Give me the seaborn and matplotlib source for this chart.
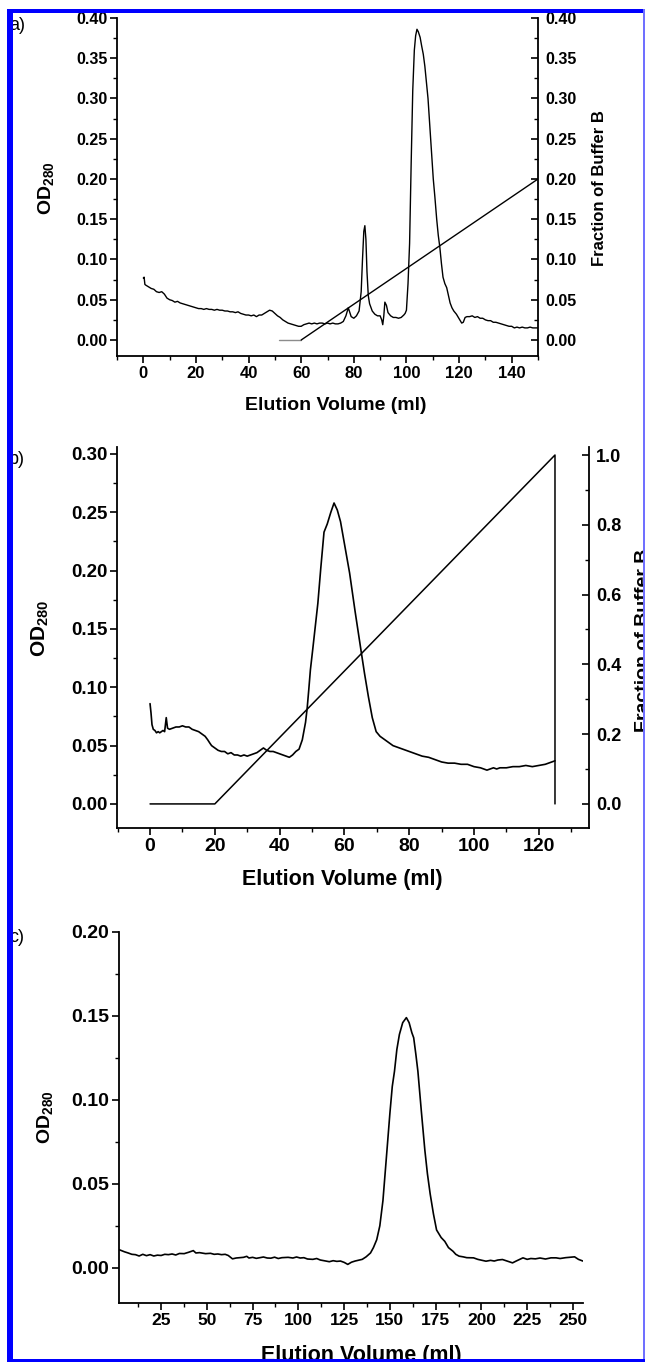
import matplotlib
matplotlib.use("Agg")
import matplotlib.pyplot as plt
from matplotlib.ticker import MultipleLocator, FormatStrFormatter
from matplotlib.patches import Rectangle
import seaborn as sns
import pandas as pd

# ---------------------------------------------------------------------------
# data: (elution volume ml, OD280)
# ---------------------------------------------------------------------------
trace_a = [
    (0, 0.077), (0.3, 0.078), (0.6, 0.069), (1, 0.068), (2, 0.066), (3, 0.064), (4, 0.063),
    (5, 0.060), (6, 0.059), (7, 0.060), (8, 0.057), (9, 0.052), (10, 0.050), (11, 0.049),
    (12, 0.047), (13, 0.048), (14, 0.046), (15, 0.045), (16, 0.044), (17, 0.043), (18, 0.042),
    (19, 0.041), (20, 0.040), (21, 0.039), (22, 0.039), (23, 0.038), (24, 0.039), (25, 0.038),
    (26, 0.038), (27, 0.037), (28, 0.038), (29, 0.037), (30, 0.037), (31, 0.036), (32, 0.036),
    (33, 0.035), (34, 0.035), (35, 0.034), (36, 0.035), (37, 0.033), (38, 0.032), (39, 0.031),
    (40, 0.031), (41, 0.030), (42, 0.031), (43, 0.029), (44, 0.031), (45, 0.031), (46, 0.033),
    (47, 0.035), (48, 0.037), (49, 0.036), (50, 0.033), (51, 0.030), (52, 0.028), (53, 0.025),
    (54, 0.023), (55, 0.021), (56, 0.020), (57, 0.019), (58, 0.018), (59, 0.017), (60, 0.017),
    (61, 0.019), (62, 0.020), (63, 0.021), (64, 0.020), (65, 0.021), (66, 0.020), (67, 0.021),
    (68, 0.021), (69, 0.020), (70, 0.021), (71, 0.020), (72, 0.021), (73, 0.020), (74, 0.020),
    (75, 0.021), (76, 0.023), (77, 0.030), (77.9, 0.040), (78.4, 0.035), (79, 0.029), (80, 0.027),
    (81, 0.030), (82, 0.036), (82.8, 0.060), (83.3, 0.100), (83.8, 0.135), (84.2, 0.142),
    (84.6, 0.125), (85, 0.085), (85.5, 0.055), (86, 0.045), (87, 0.036), (88, 0.032), (89, 0.030),
    (90, 0.030), (90.6, 0.025), (91, 0.019), (91.4, 0.030), (91.8, 0.047), (92.4, 0.043),
    (93, 0.034), (94, 0.030), (95, 0.028), (96, 0.028), (97, 0.027), (98, 0.028), (99, 0.031),
    (99.5, 0.033), (100, 0.037), (100.6, 0.070), (101.2, 0.120), (101.8, 0.220), (102.4, 0.310),
    (103, 0.360), (103.5, 0.378), (104, 0.386), (104.5, 0.383), (105.2, 0.376), (105.8, 0.365),
    (106.4, 0.355), (107, 0.340), (107.6, 0.320), (108.2, 0.300), (108.8, 0.270), (109.5, 0.235),
    (110.2, 0.200), (110.8, 0.178), (111.5, 0.150), (112.1, 0.130), (112.7, 0.115), (113.3, 0.095),
    (113.9, 0.078), (114.6, 0.070), (115.3, 0.065), (116, 0.055), (116.6, 0.046), (117.3, 0.040),
    (118, 0.036), (119, 0.032), (120.3, 0.025), (121, 0.021), (121.6, 0.022), (122.3, 0.028),
    (123, 0.029), (124, 0.029), (125, 0.030), (126, 0.028), (127, 0.029), (128, 0.027),
    (129, 0.027), (130, 0.025), (131, 0.024), (132, 0.024), (133, 0.022), (134, 0.022),
    (135, 0.021), (136, 0.020), (137, 0.019), (138, 0.018), (139, 0.017), (140, 0.017),
    (141, 0.015), (142, 0.016), (143, 0.015), (144, 0.016), (145, 0.015), (146, 0.015),
    (147, 0.016), (148, 0.015), (149, 0.015), (150, 0.015),
]
# buffer B gradient for a): (ml, fraction)
grad_a = [(51.5, 0.0), (60, 0.0), (150, 0.20)]

trace_b = [
    (0, 0.086), (0.3, 0.078), (0.6, 0.068), (1, 0.064), (1.5, 0.063), (2, 0.061), (2.5, 0.062),
    (3, 0.061), (3.5, 0.062), (4, 0.063), (4.5, 0.062), (5, 0.074), (5.4, 0.065), (6, 0.064),
    (7, 0.065), (8, 0.066), (9, 0.066), (10, 0.067), (11, 0.066), (12, 0.066), (13, 0.064),
    (14, 0.063), (15, 0.062), (16, 0.060), (17, 0.058), (17.8, 0.055), (18.5, 0.052), (19, 0.050),
    (20, 0.048), (21, 0.046), (22, 0.045), (23, 0.045), (24, 0.043), (25, 0.044), (26, 0.042),
    (27, 0.042), (28, 0.041), (29, 0.042), (30, 0.041), (31, 0.042), (32, 0.043), (33, 0.044),
    (34, 0.046), (35, 0.048), (36, 0.046), (37, 0.045), (38, 0.045), (39, 0.044), (40, 0.043),
    (41, 0.042), (42, 0.041), (43, 0.040), (44, 0.042), (45, 0.045), (46, 0.047), (47, 0.055),
    (48, 0.070), (48.5, 0.082), (49, 0.098), (49.5, 0.115), (50.2, 0.132), (51, 0.152),
    (51.8, 0.172), (52.7, 0.202), (53.7, 0.233), (54.7, 0.240), (55.8, 0.250), (56.8, 0.258),
    (57.8, 0.252), (58.8, 0.242), (60.2, 0.220), (61.6, 0.198), (63.3, 0.165), (65.1, 0.132),
    (66.2, 0.112), (67.4, 0.092), (68.6, 0.074), (69.8, 0.062), (71, 0.058), (72, 0.056),
    (73, 0.054), (74, 0.052), (75, 0.050), (76, 0.049), (77, 0.048), (78, 0.047), (79, 0.046),
    (80, 0.045), (82, 0.043), (84, 0.041), (86, 0.040), (88, 0.038), (90, 0.036), (92, 0.035),
    (94, 0.035), (96, 0.034), (98, 0.034), (100, 0.032), (102, 0.031), (104, 0.029), (105, 0.030),
    (106, 0.031), (107, 0.030), (108, 0.031), (110, 0.031), (112, 0.032), (114, 0.032),
    (116, 0.033), (118, 0.032), (120, 0.033), (122, 0.034), (123, 0.035), (124, 0.036),
    (125, 0.037),
]
grad_b = [(0, 0.0), (20, 0.0), (125, 1.0), (125, 0.0)]

trace_c = [
    (2, 0.0108), (5, 0.0095), (7, 0.0088), (9, 0.0080), (11, 0.0078), (13, 0.0070), (15, 0.0080),
    (17, 0.0072), (19, 0.0078), (21, 0.0070), (23, 0.0075), (25, 0.0073), (27, 0.0080),
    (29, 0.0078), (31, 0.0082), (33, 0.0076), (35, 0.0085), (37.6, 0.0084), (40, 0.0092),
    (42.6, 0.0102), (44, 0.0088), (46, 0.0090), (49.3, 0.0084), (52, 0.0086), (54, 0.0080),
    (56, 0.0082), (58, 0.0078), (60, 0.0080), (61.7, 0.0073), (64, 0.0053), (66, 0.0058),
    (68, 0.0060), (70, 0.0062), (71.8, 0.0068), (73, 0.0058), (75, 0.0062), (77, 0.0056),
    (79, 0.0060), (80.9, 0.0064), (83, 0.0058), (85, 0.0057), (87, 0.0063), (89, 0.0055),
    (91, 0.0060), (94.4, 0.0062), (97, 0.0058), (99, 0.0064), (101, 0.0058), (103, 0.0060),
    (105, 0.0052), (107.9, 0.0050), (110, 0.0055), (112, 0.0046), (114, 0.0042), (116.9, 0.0036),
    (119, 0.0042), (121, 0.0038), (123, 0.0040), (125, 0.0032), (127, 0.0020), (129, 0.0033),
    (131, 0.0040), (134.9, 0.0050), (137, 0.0065), (139.4, 0.0088), (141, 0.0120),
    (142.8, 0.0167), (144.5, 0.025), (146.2, 0.040), (147.3, 0.055), (148.4, 0.070),
    (150, 0.092), (151.3, 0.108), (152.5, 0.117), (153.8, 0.130), (155.2, 0.139), (157, 0.146),
    (159, 0.149), (160.5, 0.146), (162, 0.140), (163, 0.137), (164.2, 0.127), (165.3, 0.117),
    (167.2, 0.093), (169.1, 0.070), (170.5, 0.056), (172, 0.044), (173.8, 0.032),
    (175.5, 0.0225), (178, 0.018), (180, 0.0157), (182, 0.012), (184.5, 0.0098), (186, 0.0080),
    (187.8, 0.0069), (190, 0.0065), (192, 0.0060), (195.7, 0.0059), (198, 0.0050),
    (200, 0.0045), (202.5, 0.0039), (205, 0.0044), (207, 0.0040), (209, 0.0046), (211.5, 0.0049),
    (214, 0.0040), (217, 0.0029), (219, 0.0040), (222.7, 0.0059), (225, 0.0050), (227, 0.0055),
    (229.5, 0.0053), (232, 0.0058), (235, 0.0052), (238, 0.0059), (240.8, 0.0059), (243, 0.0055),
    (246, 0.0060), (248, 0.0062), (250.9, 0.0065), (253, 0.0050), (255.4, 0.0040),
]

xlabel = "Elution Volume (ml)"
ylabel = r"$\mathbf{OD_{280}}$"
rlabel = "Fraction of Buffer B"

W, H = 645, 1362


def box(l, t, r, b):
    # pixel box -> figure fraction
    return [l / W, 1 - b / H, (r - l) / W, (b - t) / H]


def frame(pairs):
    return pd.DataFrame(pairs, columns=["ml", "val"])


def style_ax(ax, xsize, ysize, ticks_in=False):
    d = "in" if ticks_in else "out"
    ax.tick_params(which="major", direction=d, length=5, width=1.2, pad=2)
    ax.tick_params(which="minor", direction=d, length=3, width=1.0)
    ax.tick_params(axis="x", labelsize=xsize)
    ax.tick_params(axis="y", labelsize=ysize)
    for s in ax.spines.values():
        s.set_linewidth(1.3)
    ax.spines["top"].set_visible(False)
    ax.set_xlabel("")
    ax.set_ylabel("")


sns.set_theme(style="ticks")
plt.rcParams["font.family"] = ["Liberation Sans", "DejaVu Sans"]
plt.rcParams["font.weight"] = "bold"
plt.rcParams["mathtext.fontset"] = "custom"
plt.rcParams["mathtext.bf"] = "Liberation Sans:bold"
plt.rcParams["mathtext.rm"] = "Liberation Sans"
plt.rcParams["text.color"] = "black"
plt.rcParams["axes.labelcolor"] = "black"
plt.rcParams["axes.edgecolor"] = "black"
plt.rcParams["xtick.color"] = "black"
plt.rcParams["ytick.color"] = "black"

fig = plt.figure(figsize=(W / 100, H / 100), dpi=100)

###############################################################################
#                          a) ion exchange, first run                         #
###############################################################################
ax = fig.add_axes(box(117, 18, 538, 356))
sns.lineplot(data=frame(trace_a), x="ml", y="val", ax=ax, color="black", lw=1.0,
             estimator=None, sort=False)
ax.set_xlim(-10, 150)
ax.set_ylim(-0.0199, 0.40)
ax.xaxis.set_major_locator(MultipleLocator(20))
ax.xaxis.set_minor_locator(MultipleLocator(10))
ax.yaxis.set_major_locator(MultipleLocator(0.05))
ax.yaxis.set_minor_locator(MultipleLocator(0.025))
ax.yaxis.set_major_formatter(FormatStrFormatter("%.2f"))
ax.spines["right"].set_visible(False)
style_ax(ax, 12, 11.5)

ax2 = ax.twinx()
ga = frame(grad_a)
sns.lineplot(data=ga.iloc[:2], x="ml", y="val", ax=ax2, color="#8c8c8c", lw=1.0,
             estimator=None, sort=False)
sns.lineplot(data=ga.iloc[1:], x="ml", y="val", ax=ax2, color="black", lw=1.0,
             estimator=None, sort=False)
ax2.set_ylim(-0.0199, 0.40)
ax2.yaxis.set_major_locator(MultipleLocator(0.05))
ax2.yaxis.set_minor_locator(MultipleLocator(0.025))
ax2.yaxis.set_major_formatter(FormatStrFormatter("%.2f"))
style_ax(ax2, 12, 11.5, ticks_in=True)
ax2.spines["left"].set_visible(False)
ax2.spines["bottom"].set_visible(False)
ax2.tick_params(axis="y", pad=5)

fig.text(46 / W, 1 - 188 / H, ylabel, rotation=90, ha="center", va="center", fontsize=14)
fig.text(336 / W, 1 - 405 / H, xlabel, ha="center", va="center", fontsize=14)
fig.text(600 / W, 1 - 188 / H, rlabel, rotation=90, ha="center", va="center", fontsize=12)
fig.text(9 / W, 1 - 26 / H, "a)", ha="left", va="center", fontsize=13, fontweight="normal")

###############################################################################
#                          b) second column                                   #
###############################################################################
ax = fig.add_axes(box(117, 447, 589, 828))
sns.lineplot(data=frame(trace_b), x="ml", y="val", ax=ax, color="black", lw=1.2,
             estimator=None, sort=False)
ax.set_xlim(-10.2, 135.5)
ax.set_ylim(-0.0206, 0.306)
ax.xaxis.set_major_locator(MultipleLocator(20))
ax.xaxis.set_minor_locator(MultipleLocator(10))
ax.yaxis.set_major_locator(MultipleLocator(0.05))
ax.yaxis.set_minor_locator(MultipleLocator(0.025))
ax.yaxis.set_major_formatter(FormatStrFormatter("%.2f"))
ax.spines["right"].set_visible(False)
style_ax(ax, 14, 13.5)

ax2 = ax.twinx()
sns.lineplot(data=frame(grad_b), x="ml", y="val", ax=ax2, color="black", lw=1.1,
             estimator=None, sort=False)
# zero of the gradient sits level with OD 0.00
ax2.set_ylim(-0.069, 1.023)
ax2.yaxis.set_major_locator(MultipleLocator(0.2))
ax2.yaxis.set_minor_locator(MultipleLocator(0.1))
ax2.yaxis.set_major_formatter(FormatStrFormatter("%.1f"))
style_ax(ax2, 14, 13, ticks_in=True)
ax2.spines["left"].set_visible(False)
ax2.spines["bottom"].set_visible(False)
ax2.tick_params(axis="y", pad=5)

fig.text(40 / W, 1 - 628 / H, ylabel, rotation=90, ha="center", va="center", fontsize=15)
fig.text(342 / W, 1 - 879 / H, xlabel, ha="center", va="center", fontsize=15.5)
fig.text(644 / W, 1 - 640 / H, rlabel, rotation=90, ha="center", va="center", fontsize=14)
fig.text(9 / W, 1 - 460 / H, "b)", ha="left", va="center", fontsize=13, fontweight="normal")

###############################################################################
#                          c) gel filtration                                  #
###############################################################################
ax = fig.add_axes(box(119, 932, 583, 1303))
sns.lineplot(data=frame(trace_c), x="ml", y="val", ax=ax, color="black", lw=1.2,
             estimator=None, sort=False)
ax.set_xlim(2, 255.5)
ax.set_ylim(-0.021, 0.20)
ax.xaxis.set_major_locator(MultipleLocator(25))
ax.xaxis.set_minor_locator(MultipleLocator(12.5))
ax.yaxis.set_major_locator(MultipleLocator(0.05))
ax.yaxis.set_minor_locator(MultipleLocator(0.025))
ax.yaxis.set_major_formatter(FormatStrFormatter("%.2f"))
ax.xaxis.set_major_formatter(FormatStrFormatter("%d"))
ax.spines["right"].set_visible(False)
style_ax(ax, 12.5, 14)

fig.text(45 / W, 1 - 1117 / H, ylabel, rotation=90, ha="center", va="center", fontsize=14)
fig.text(361 / W, 1 - 1356 / H, xlabel, ha="center", va="center", fontsize=15.5)
fig.text(9 / W, 1 - 937 / H, "c)", ha="left", va="center", fontsize=13, fontweight="normal")

# blue page frame around the figure
blue = "#0000ff"
for (x0, y0, w, h, c) in [(7, 9, 6, H - 9, blue), (7, 9, W - 7, 4, blue),
                          (643, 9, 2, H - 9, "#7070ff"), (7, H - 3, W - 7, 3, blue)]:
    fig.add_artist(Rectangle((x0 / W, 1 - (y0 + h) / H), w / W, h / H,
                             transform=fig.transFigure, color=c, zorder=20, lw=0))

fig.savefig("out.png", dpi=100)
